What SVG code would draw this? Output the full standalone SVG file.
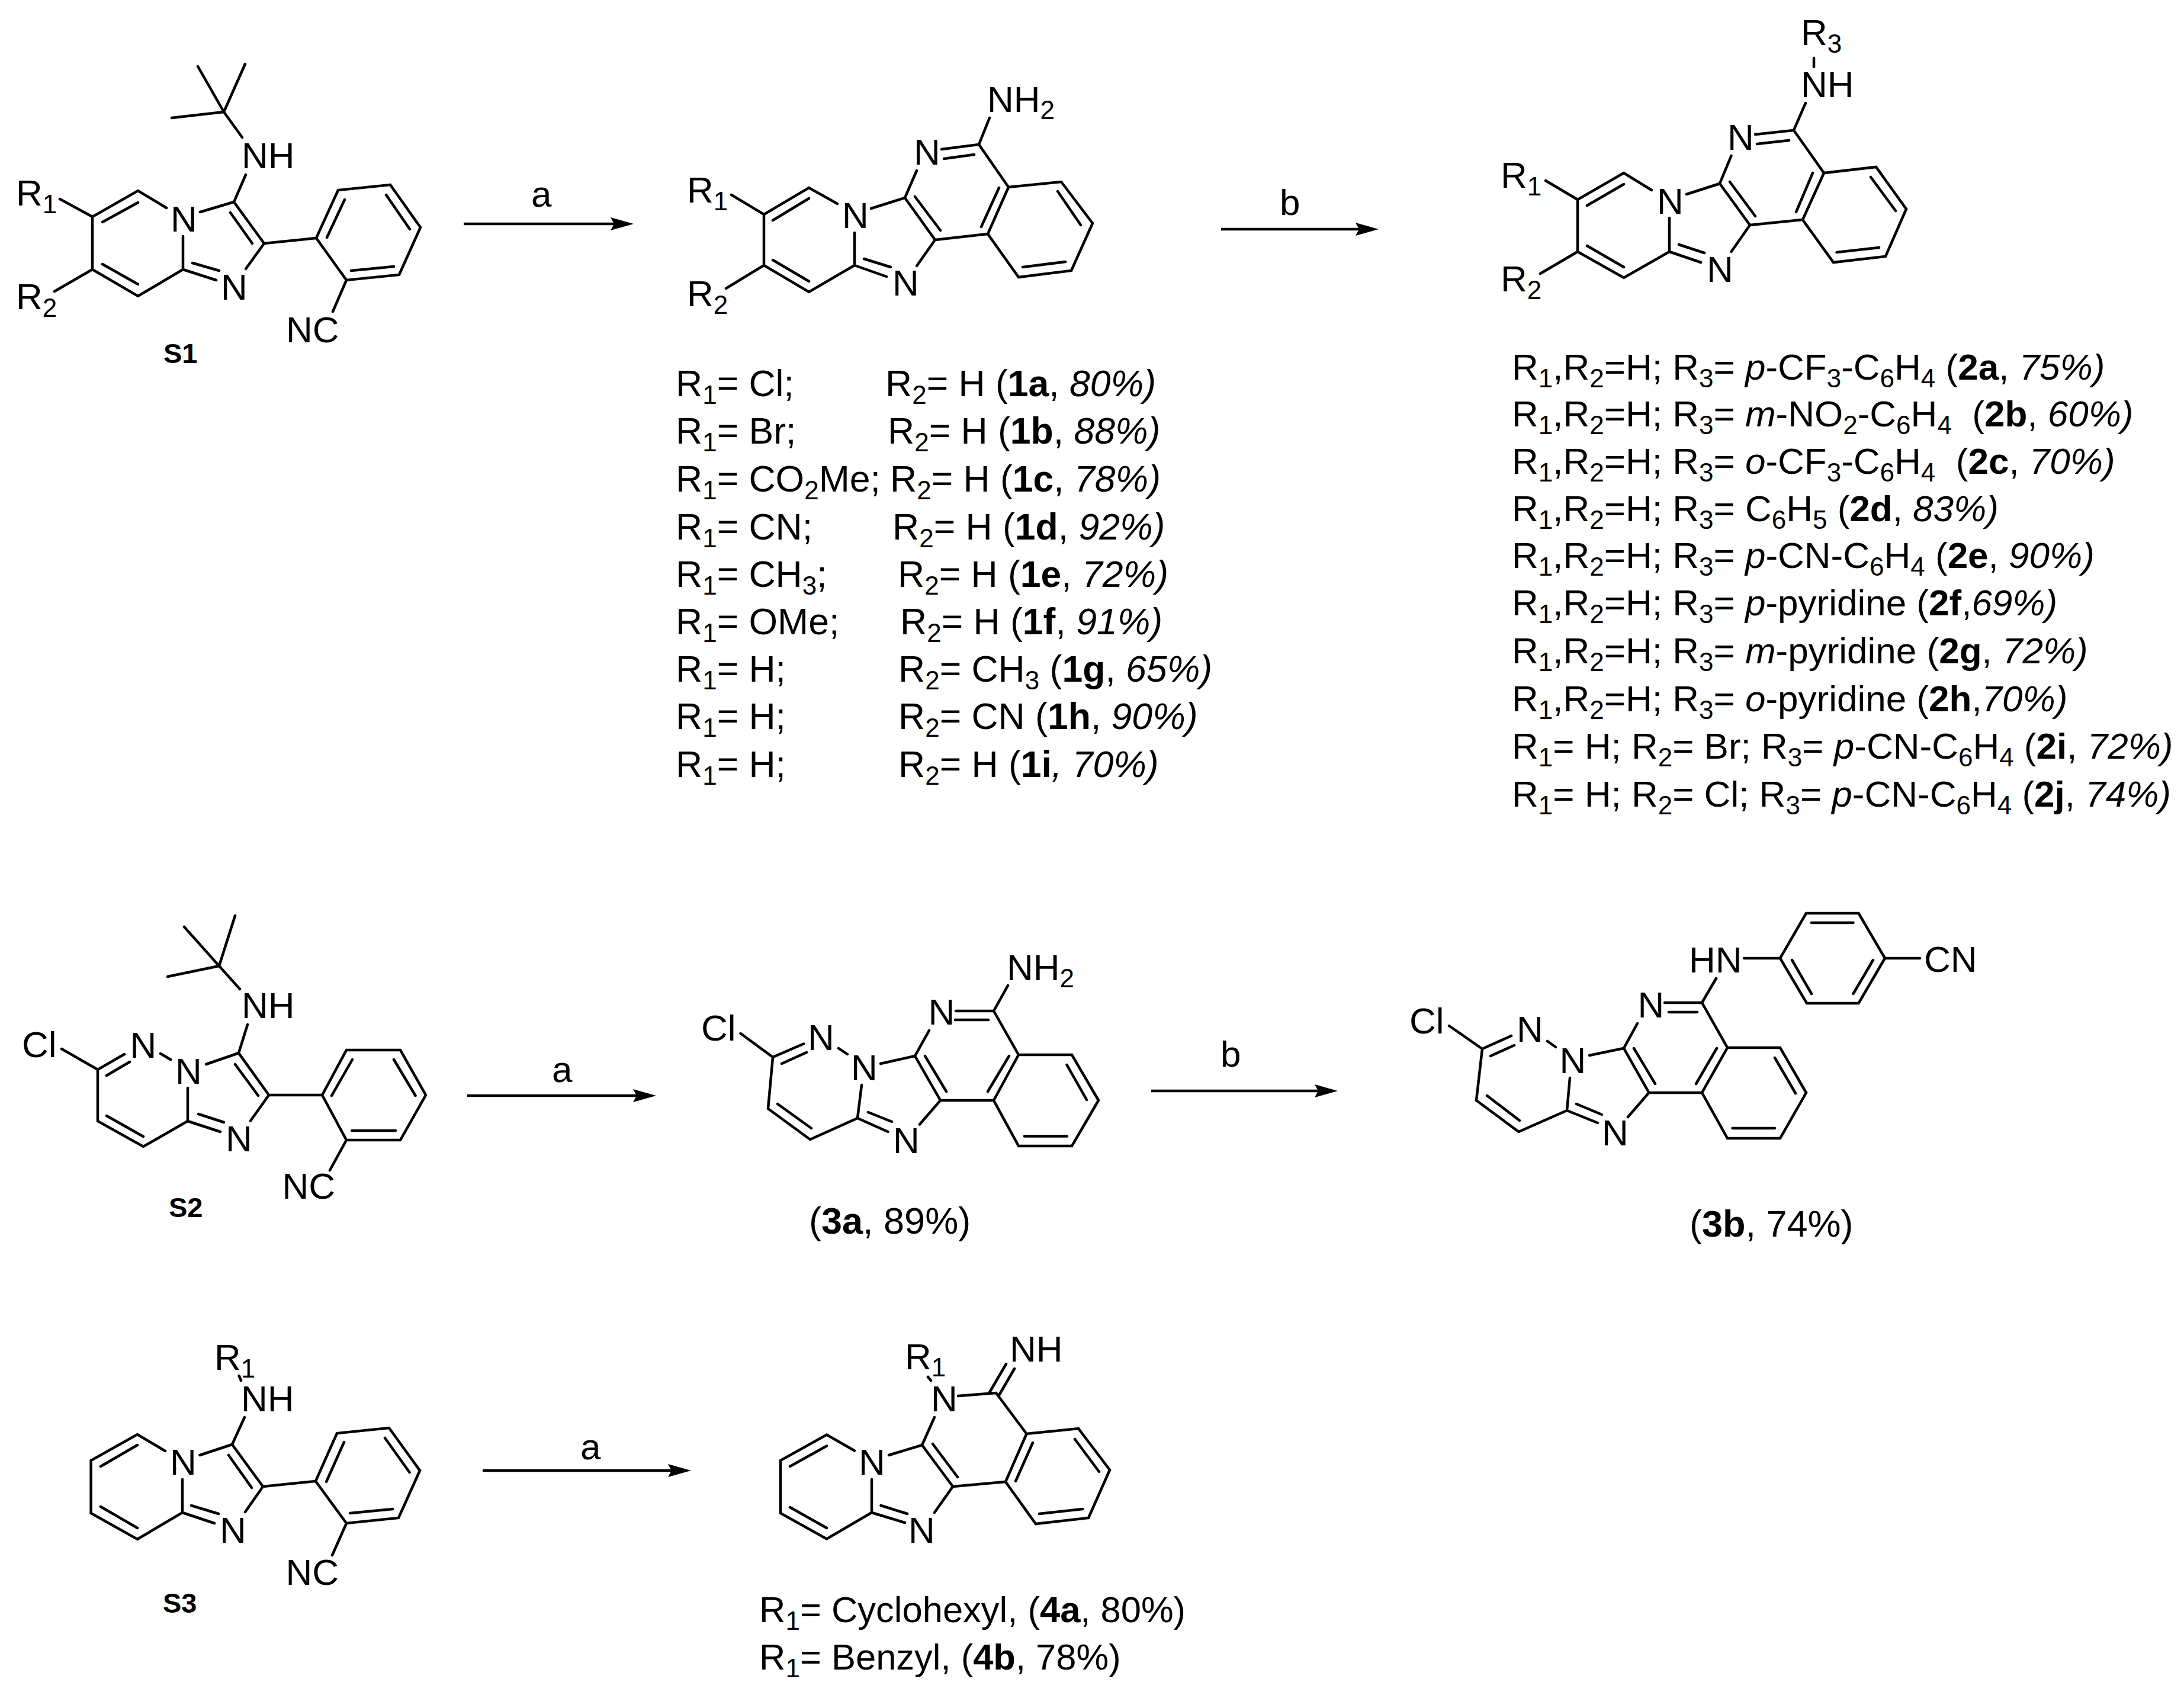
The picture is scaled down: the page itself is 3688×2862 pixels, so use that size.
<svg xmlns="http://www.w3.org/2000/svg" width="3688" height="2862" viewBox="0 0 3688 2862">
<style>
text{font-family:"Liberation Sans",Arial,sans-serif;font-size:62px;fill:#000;white-space:pre}
.s{font-size:44px}
.l1{font-size:62.5px}
.l2{font-size:62px}
.l3{font-size:63px}
.l4{font-size:61.5px}
.l1 .s,.l2 .s,.l4 .s{font-size:44px}
.b{font-weight:bold}
.i{font-style:italic}
.lab{font-size:47px;font-weight:bold}
.bond{fill:none;stroke:#000;stroke-width:4.5;stroke-linecap:round;stroke-linejoin:miter}
.arrow{fill:none;stroke:#000;stroke-width:4.7;marker-end:url(#head)}
</style>
<defs>
<marker id="head" markerUnits="userSpaceOnUse" markerWidth="40" markerHeight="24" viewBox="0 0 40 24" refX="6" refY="12" orient="auto"><path d="M0 1L39 12L0 23L6 12Z" fill="#000"/></marker>
</defs>
<rect width="3688" height="2862" fill="#fff"/>

<g id="connectors">
<path class="arrow" d="M783 378H1037"/>
<path class="arrow" d="M2062 387H2295"/>
<path class="arrow" d="M789 1850H1075"/>
<path class="arrow" d="M1944 1842H2226"/>
<path class="arrow" d="M815 2483H1134"/>
<text x="897" y="349">a</text>
<text x="2161" y="363">b</text>
<text x="932" y="1827">a</text>
<text x="2061" y="1801">b</text>
<text x="980" y="2464">a</text>
</g>

<g id="S1">
<path class="bond" d="M378 189L334 112M378 189L414 108M378 189L290 199M378 189L409 232M415 295L395 341L446 411L415 454M389 359L426 411M395 341L338 358M281 351L233 322L156 366V455L233 500L309 455V399M233 342L173 375M173 446L233 480M309 455L365 473M325 444L370 457M446 411L534 402L571 321L659 312L710 384L674 464L585 473L534 402M552 401L582 337M652 329L692 387M593 457L665 450M585 473L562 526M101 336L156 366M92 492L156 455"/>
<text x="408" y="284">NH</text>
<text x="288" y="391">N</text>
<text x="373" y="506">N</text>
<text x="483" y="578">NC</text>
<text x="27" y="347">R<tspan class="s" dy="13">1</tspan></text>
<text x="27" y="522">R<tspan class="s" dy="13">2</tspan></text>
<text x="276" y="613" class="lab">S1</text>
</g>

<g id="compound-1">
<path class="bond" d="M1671 199L1653 244L1590 252M1645 261L1594 268M1548 288L1528 334L1579 405L1548 449M1653 244L1703 316L1792 307L1845 377L1809 457L1720 468L1668 395L1703 316M1687 317L1657 383M1786 323L1825 380M1727 451L1799 442M1668 395L1579 405M1545 332L1588 389M1528 334L1471 352M1414 344L1366 317L1290 362V448L1366 493L1443 448V393M1366 335L1305 372M1305 439L1366 475M1443 448L1497 467M1459 437L1504 451M1235 329L1290 362M1226 487L1290 448"/>
<text x="1667" y="189">NH<tspan class="s" dy="12">2</tspan></text>
<text x="1543" y="278">N</text>
<text x="1422" y="385">N</text>
<text x="1507" y="499">N</text>
<text x="1160" y="342">R<tspan class="s" dy="13">1</tspan></text>
<text x="1160" y="517">R<tspan class="s" dy="13">2</tspan></text>
</g>

<g id="list-1">
<text class="l1" x="1141" y="669">R<tspan class="s" dy="13">1</tspan><tspan dy="-13">= Cl;</tspan><tspan x="1495" dy="0">R</tspan><tspan class="s" dy="13">2</tspan><tspan dy="-13">= H (</tspan><tspan class="b">1a</tspan>, <tspan class="i">80%)</tspan></text>
<text class="l1" x="1141" y="749">R<tspan class="s" dy="13">1</tspan><tspan dy="-13">= Br;</tspan><tspan x="1499">R</tspan><tspan class="s" dy="13">2</tspan><tspan dy="-13">= H (</tspan><tspan class="b">1b</tspan>, <tspan class="i">88%)</tspan></text>
<text class="l1" x="1141" y="830">R<tspan class="s" dy="13">1</tspan><tspan dy="-13">= CO</tspan><tspan class="s" dy="13">2</tspan><tspan dy="-13">Me;</tspan><tspan x="1503">R</tspan><tspan class="s" dy="13">2</tspan><tspan dy="-13">= H (</tspan><tspan class="b">1c</tspan>, <tspan class="i">78%)</tspan></text>
<text class="l1" x="1141" y="911">R<tspan class="s" dy="13">1</tspan><tspan dy="-13">= CN;</tspan><tspan x="1507">R</tspan><tspan class="s" dy="13">2</tspan><tspan dy="-13">= H (</tspan><tspan class="b">1d</tspan>, <tspan class="i">92%)</tspan></text>
<text class="l1" x="1141" y="991">R<tspan class="s" dy="13">1</tspan><tspan dy="-13">= CH</tspan><tspan class="s" dy="13">3</tspan><tspan dy="-13">;</tspan><tspan x="1516">R</tspan><tspan class="s" dy="13">2</tspan><tspan dy="-13">= H (</tspan><tspan class="b">1e</tspan>, <tspan class="i">72%)</tspan></text>
<text class="l1" x="1141" y="1071">R<tspan class="s" dy="13">1</tspan><tspan dy="-13">= OMe;</tspan><tspan x="1520">R</tspan><tspan class="s" dy="13">2</tspan><tspan dy="-13">= H (</tspan><tspan class="b">1f</tspan>, <tspan class="i">91%)</tspan></text>
<text class="l1" x="1141" y="1151">R<tspan class="s" dy="13">1</tspan><tspan dy="-13">= H;</tspan><tspan x="1517">R</tspan><tspan class="s" dy="13">2</tspan><tspan dy="-13">= CH</tspan><tspan class="s" dy="13">3</tspan><tspan dy="-13"> (</tspan><tspan class="b">1g</tspan>, <tspan class="i">65%)</tspan></text>
<text class="l1" x="1141" y="1231">R<tspan class="s" dy="13">1</tspan><tspan dy="-13">= H;</tspan><tspan x="1517">R</tspan><tspan class="s" dy="13">2</tspan><tspan dy="-13">= CN (</tspan><tspan class="b">1h</tspan>, <tspan class="i">90%)</tspan></text>
<text class="l1" x="1141" y="1312">R<tspan class="s" dy="13">1</tspan><tspan dy="-13">= H;</tspan><tspan x="1517">R</tspan><tspan class="s" dy="13">2</tspan><tspan dy="-13">= H (</tspan><tspan class="b">1i</tspan><tspan class="i">, 70%)</tspan></text>
</g>

<g id="compound-2">
<path class="bond" d="M3063 98V113M3049 174L3029 220L2964 227M3021 237L2967 243M2923.5 263L2904 310L2955 380L2923.5 425M3029 220L3080 292L3168 282L3219 353L3184 433L3096 443L3044 371L3080 292M3061 292L3033 358M3159 299L3201 356M3101.5 426L3173 418M3044 371L2955 380M2921 307L2964 365M2904 310L2848 328M2789 321L2742 292L2664 337V425L2742 469L2819 425V368M2742 311L2680 347M2680 415L2742 451M2819 425L2872 443M2835 413L2878 427M2610 305L2664 337M2601 462L2664 425"/>
<text x="3041" y="76">R<tspan class="s" dy="13">3</tspan></text>
<text x="3041" y="164">NH</text>
<text x="2917" y="253">N</text>
<text x="2798" y="361">N</text>
<text x="2882" y="476">N</text>
<text x="2534" y="317">R<tspan class="s" dy="13">1</tspan></text>
<text x="2534" y="492">R<tspan class="s" dy="13">2</tspan></text>
</g>

<g id="list-2">
<text class="l2" x="2553" y="641">R<tspan class="s" dy="13">1</tspan><tspan dy="-13">,R</tspan><tspan class="s" dy="13">2</tspan><tspan dy="-13">=H; R</tspan><tspan class="s" dy="13">3</tspan><tspan dy="-13">= </tspan><tspan class="i">p</tspan>-CF<tspan class="s" dy="13">3</tspan><tspan dy="-13">-C</tspan><tspan class="s" dy="13">6</tspan><tspan dy="-13">H</tspan><tspan class="s" dy="13">4</tspan><tspan dy="-13"> (</tspan><tspan class="b">2a</tspan>, <tspan class="i">75%)</tspan></text>
<text class="l2" x="2553" y="720">R<tspan class="s" dy="13">1</tspan><tspan dy="-13">,R</tspan><tspan class="s" dy="13">2</tspan><tspan dy="-13">=H; R</tspan><tspan class="s" dy="13">3</tspan><tspan dy="-13">= </tspan><tspan class="i">m</tspan>-NO<tspan class="s" dy="13">2</tspan><tspan dy="-13">-C</tspan><tspan class="s" dy="13">6</tspan><tspan dy="-13">H</tspan><tspan class="s" dy="13">4</tspan><tspan dy="-13">  (</tspan><tspan class="b">2b</tspan>, <tspan class="i">60%)</tspan></text>
<text class="l2" x="2553" y="800">R<tspan class="s" dy="13">1</tspan><tspan dy="-13">,R</tspan><tspan class="s" dy="13">2</tspan><tspan dy="-13">=H; R</tspan><tspan class="s" dy="13">3</tspan><tspan dy="-13">= </tspan><tspan class="i">o</tspan>-CF<tspan class="s" dy="13">3</tspan><tspan dy="-13">-C</tspan><tspan class="s" dy="13">6</tspan><tspan dy="-13">H</tspan><tspan class="s" dy="13">4</tspan><tspan dy="-13">  (</tspan><tspan class="b">2c</tspan>, <tspan class="i">70%)</tspan></text>
<text class="l2" x="2553" y="880">R<tspan class="s" dy="13">1</tspan><tspan dy="-13">,R</tspan><tspan class="s" dy="13">2</tspan><tspan dy="-13">=H; R</tspan><tspan class="s" dy="13">3</tspan><tspan dy="-13">= C</tspan><tspan class="s" dy="13">6</tspan><tspan dy="-13">H</tspan><tspan class="s" dy="13">5</tspan><tspan dy="-13"> (</tspan><tspan class="b">2d</tspan>, <tspan class="i">83%)</tspan></text>
<text class="l2" x="2553" y="959">R<tspan class="s" dy="13">1</tspan><tspan dy="-13">,R</tspan><tspan class="s" dy="13">2</tspan><tspan dy="-13">=H; R</tspan><tspan class="s" dy="13">3</tspan><tspan dy="-13">= </tspan><tspan class="i">p</tspan>-CN-C<tspan class="s" dy="13">6</tspan><tspan dy="-13">H</tspan><tspan class="s" dy="13">4</tspan><tspan dy="-13"> (</tspan><tspan class="b">2e</tspan>, <tspan class="i">90%)</tspan></text>
<text class="l2" x="2553" y="1039">R<tspan class="s" dy="13">1</tspan><tspan dy="-13">,R</tspan><tspan class="s" dy="13">2</tspan><tspan dy="-13">=H; R</tspan><tspan class="s" dy="13">3</tspan><tspan dy="-13">= </tspan><tspan class="i">p</tspan>-pyridine (<tspan class="b">2f</tspan>,<tspan class="i">69%)</tspan></text>
<text class="l2" x="2553" y="1120">R<tspan class="s" dy="13">1</tspan><tspan dy="-13">,R</tspan><tspan class="s" dy="13">2</tspan><tspan dy="-13">=H; R</tspan><tspan class="s" dy="13">3</tspan><tspan dy="-13">= </tspan><tspan class="i">m</tspan>-pyridine (<tspan class="b">2g</tspan>, <tspan class="i">72%)</tspan></text>
<text class="l2" x="2553" y="1201">R<tspan class="s" dy="13">1</tspan><tspan dy="-13">,R</tspan><tspan class="s" dy="13">2</tspan><tspan dy="-13">=H; R</tspan><tspan class="s" dy="13">3</tspan><tspan dy="-13">= </tspan><tspan class="i">o</tspan>-pyridine (<tspan class="b">2h</tspan>,<tspan class="i">70%)</tspan></text>
<text class="l2" x="2553" y="1281">R<tspan class="s" dy="13">1</tspan><tspan dy="-13">= H; R</tspan><tspan class="s" dy="13">2</tspan><tspan dy="-13">= Br; R</tspan><tspan class="s" dy="13">3</tspan><tspan dy="-13">= </tspan><tspan class="i">p</tspan>-CN-C<tspan class="s" dy="13">6</tspan><tspan dy="-13">H</tspan><tspan class="s" dy="13">4</tspan><tspan dy="-13"> (</tspan><tspan class="b">2i</tspan>, <tspan class="i">72%)</tspan></text>
<text class="l2" x="2553" y="1362">R<tspan class="s" dy="13">1</tspan><tspan dy="-13">= H; R</tspan><tspan class="s" dy="13">2</tspan><tspan dy="-13">= Cl; R</tspan><tspan class="s" dy="13">3</tspan><tspan dy="-13">= </tspan><tspan class="i">p</tspan>-CN-C<tspan class="s" dy="13">6</tspan><tspan dy="-13">H</tspan><tspan class="s" dy="13">4</tspan><tspan dy="-13"> (</tspan><tspan class="b">2j</tspan>, <tspan class="i">74%)</tspan></text>
</g>

<g id="S2">
<path class="bond" d="M370 1631L311 1565M370 1631L397 1546M370 1631L283 1649M370 1631L405 1670M418 1730L403 1778L454 1849L423 1892.5M397 1797L436 1850M403 1778L348 1797M317 1837V1893L242 1936L165 1893V1806L210 1780M219 1793L180 1816M180 1884L242 1919M271 1779L288 1789M104 1771L165 1806M317 1893L372 1911M335 1881L378 1895M454 1849H544L585 1773H676L719 1849L676 1925H585L544 1849M560 1850L595 1789M665 1789L701.5 1850M594 1909H668M585 1925L557 1976"/>
<text x="408" y="1719">NH</text>
<text x="296" y="1830">N</text>
<text x="219.500" y="1786">N</text>
<text x="37" y="1785">Cl</text>
<text x="381" y="1944">N</text>
<text x="476.500" y="2024">NC</text>
<text x="285" y="2055" class="lab">S2</text>
</g>

<g id="compound-3a">
<path class="bond" d="M1702 1664L1678 1707H1614M1669 1722H1613M1569 1740L1545 1783L1588 1858L1553 1898.5M1678 1707L1720 1781H1810L1855 1858L1810 1935H1720L1678 1858L1720 1781M1704 1783L1668 1843M1801.500 1798L1835 1857M1730 1918.500H1802M1678 1858H1588M1562 1783L1598 1843M1545 1783L1487 1796M1455 1832L1448 1888L1368 1924L1297 1872L1305 1785L1357 1762.500M1362 1777L1320 1796M1313 1864L1370 1905M1416 1770L1431 1780M1250.500 1745L1305 1785M1448 1888L1499.500 1911M1466 1878L1506 1894"/>
<text x="1700" y="1655">NH<tspan class="s" dy="12">2</tspan></text>
<text x="1567.500" y="1730">N</text>
<text x="1437" y="1824">N</text>
<text x="1364" y="1773">N</text>
<text x="1184" y="1757">Cl</text>
<text x="1508" y="1947">N</text>
<text class="l3" x="1366" y="2083">(<tspan class="b">3a</tspan>, 89%)</text>
</g>

<g id="compound-3b">
<path class="bond" d="M2945 1618H3006L3050 1542H3138.500L3183 1618L3138.500 1694H3051L3006 1618M3059 1558H3129.500M3163 1621L3129.500 1678M3026 1621L3059 1678M3183 1618H3242M2898 1652L2874 1693H2811M2866 1709H2818M2765 1728L2742 1770L2784.500 1845L2749 1886M2874 1693L2917 1769H3006L3050 1845L3006 1922H2917L2874 1845L2917 1769M2899 1770L2864 1830M2997 1786L3032 1846M2925.500 1905H2997M2874 1845H2784.500M2759 1770L2795 1830M2742 1770L2684 1782M2651 1820L2646 1875L2564.500 1911L2493 1858L2503 1771L2552 1749M2557 1765L2517 1783M2511 1850L2566 1892M2613 1758L2627 1768M2447 1732L2503 1771M2646 1875L2698 1896M2662 1864L2705 1882"/>
<text x="2852" y="1642">HN</text>
<text x="3249" y="1641">CN</text>
<text x="2765.500" y="1718">N</text>
<text x="2633.500" y="1812">N</text>
<text x="2561" y="1759">N</text>
<text x="2380" y="1745">Cl</text>
<text x="2705" y="1934">N</text>
<text class="l3" x="2853" y="2088">(<tspan class="b">3b</tspan>, 74%)</text>
</g>

<g id="S3">
<path class="bond" d="M403.600 2323L407 2331M413 2393L392 2439L444 2510L414 2553M386 2457L425 2512M392 2439L337.500 2457M308 2498V2554L232 2599L153.600 2555V2466L232 2422L279 2450M232 2440L170 2476M170 2544L232 2580M308 2554L362 2572M323 2542L369 2556M444 2510L533 2501L569 2420L657 2411L709 2483L673 2563L585 2572L533 2501M551 2502L581 2435M650 2428L691.500 2486M591 2555L663 2548M585 2572L561 2626"/>
<text x="362" y="2313">R<tspan class="s" dy="13">1</tspan></text>
<text x="407" y="2383">NH</text>
<text x="287" y="2490">N</text>
<text x="371" y="2605">N</text>
<text x="482.500" y="2676">NC</text>
<text x="275" y="2723" class="lab">S3</text>
</g>

<g id="compound-4">
<path class="bond" d="M1567 2325L1572 2331M1618 2357L1682 2352M1671 2351L1699 2303M1687.500 2355L1713 2311M1682 2352L1733.500 2421L1821 2412L1874 2482L1838 2563L1749 2573L1698 2502L1733.500 2421M1744 2436L1715 2501M1815 2430L1856 2485M1755 2556L1828 2548M1698 2502L1609 2510M1578 2393L1557 2440L1609 2510L1578 2554M1575 2438L1617 2494M1557 2440L1501 2457M1472 2498V2554L1396 2598.500L1318 2555V2466L1396 2422.500L1443 2449.500M1396 2441.500L1334 2476M1334 2545L1396 2580M1472 2554L1528 2571M1487.500 2542L1532 2556"/>
<text x="1705" y="2299">NH</text>
<text x="1528" y="2312">R<tspan class="s" dy="12">1</tspan></text>
<text x="1572" y="2383">N</text>
<text x="1450" y="2490">N</text>
<text x="1534" y="2605">N</text>
<text x="1282" y="2739" class="l4">R<tspan class="s" dy="13">1</tspan><tspan dy="-13">= Cyclohexyl, (</tspan><tspan class="b">4a</tspan>, 80%)</text>
<text x="1282" y="2819" class="l4">R<tspan class="s" dy="13">1</tspan><tspan dy="-13">= Benzyl, (</tspan><tspan class="b">4b</tspan>, 78%)</text>
</g>
</svg>
